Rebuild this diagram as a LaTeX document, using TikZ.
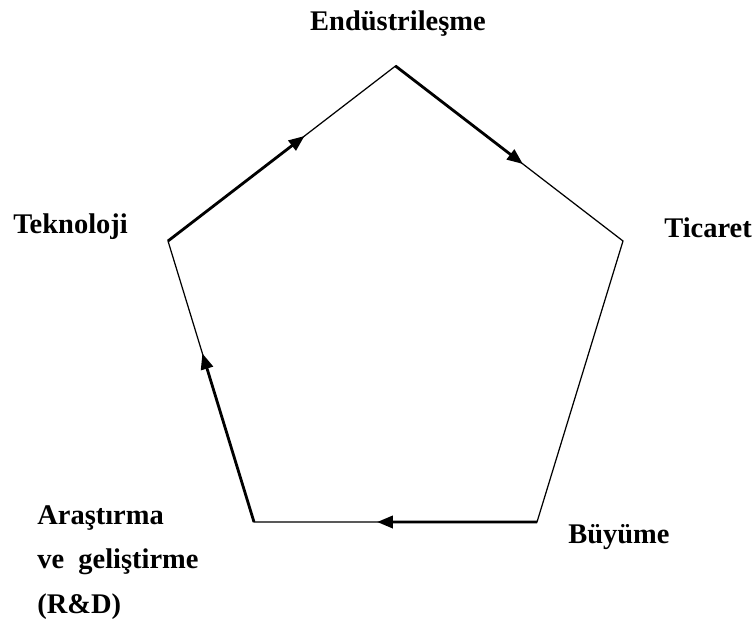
\documentclass[tikz,border=0pt]{standalone}
\usepackage{fontspec}
\setmainfont{Liberation Serif}
\usetikzlibrary{arrows.meta,calc,positioning}

\begin{document}
\begin{tikzpicture}[x=0.02cm,y=-0.02cm]
    \tikzset{edge/.style={line width=0.7pt},
      flow/.style={line width=1.6pt,-{Triangle[length=9pt,width=7pt]}},
      lbl/.style={font=\bfseries\fontsize{16.2}{25.5}\selectfont,inner sep=0pt,anchor=base west}}
    \useasboundingbox (0,0) rectangle (754,635);
    % corners of the cycle
    \coordinate (ind) at (395.5,66);
    \coordinate (tic) at (623,241);
    \coordinate (buy) at (537,522);
    \coordinate (arg) at (254,522);
    \coordinate (tek) at (168,241);
    \draw[edge] (ind) -- (tic) -- (buy) -- (arg) -- (tek) -- cycle;
    % arrows along the edges
    \draw[flow] (tek) -- ($(tek)!0.6!(ind)$);
    \draw[flow] (ind) -- ($(ind)!0.56!(tic)$);
    \draw[flow] (buy) -- ($(buy)!0.565!(arg)$);
    \draw[flow] (arg) -- ($(arg)!0.6!(tek)$);
    % labels
    \node[lbl,anchor=base] (l-ind) at (398,31) {Endüstrileşme};
    \node[lbl] (l-tic) at (664,237) {Ticaret};
    \node[lbl] (l-tek) at (13,233) {Teknoloji};
    \node[lbl] (l-buy) at (568,543) {Büyüme};
    \node[lbl,align=left,anchor=north west] (l-arg) at (37,505) {Araştırma\\ve\ \ geliştirme\\(R\&D)};
  \end{tikzpicture}
\end{document}
